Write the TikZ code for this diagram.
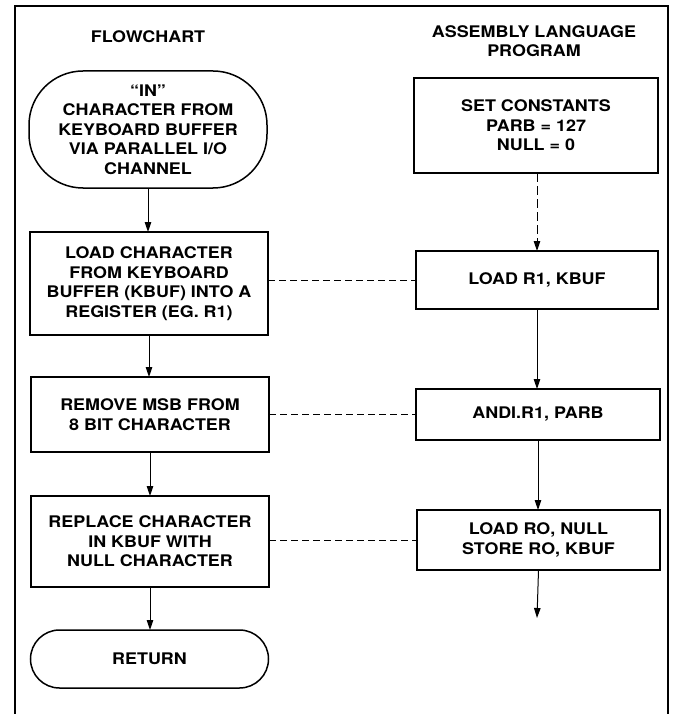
\documentclass[tikz,border=0pt]{standalone}
\usepackage{fontspec}
\setmainfont{TeX Gyre Heros}[FakeStretch=1.12]
\usetikzlibrary{arrows.meta}
\begin{document}
\begin{tikzpicture}[x=1pt,y=-1pt,
  txt/.style={font=\bfseries\fontsize{16}{19.5}\selectfont, align=center, inner sep=0pt},
  box/.style={txt, draw, line width=1.5pt, minimum width=#1, outer sep=0pt},
  box/.default=238pt,
  term/.style={box, rounded corners=#1},
  arr/.style={line width=1pt, -{Triangle[length=10pt,width=6.5pt]}},
  link/.style={line width=1pt, dash pattern=on 7pt off 4pt}]
  \useasboundingbox (0,0) rectangle (675,714);
  % outer frame, open at the foot
  \draw[line width=2pt] (15,714) -- (15,6) -- (668,6) -- (668,714);

  % column headings
  \node[txt] (h1) at (148,37) {FLOWCHART};
  \node[txt] (h2) at (534,41) {ASSEMBLY LANGUAGE\\PROGRAM};

  % flowchart column
  \node[term=54pt, minimum height=117pt] (in) at (148,129.5)
    {``IN''\\CHARACTER FROM\\KEYBOARD BUFFER\\VIA PARALLEL I/O\\CHANNEL};
  \node[box, minimum height=103pt] (load) at (149,283.5)
    {LOAD CHARACTER\\FROM KEYBOARD\\BUFFER (KBUF) INTO A\\REGISTER (EG. R1)};
  \node[box, minimum height=75pt] (remove) at (150,414.5)
    {REMOVE MSB FROM\\8 BIT CHARACTER};
  \node[box, minimum height=91pt] (replace) at (150,541.5)
    {REPLACE CHARACTER\\IN KBUF WITH\\NULL CHARACTER};
  \node[term=29pt, minimum height=58pt] (ret) at (149.5,659) {RETURN};

  % program column
  \node[box=244pt, minimum height=95pt] (setc) at (536,125.5)
    {SET CONSTANTS\\PARB = 127\\NULL = 0};
  \node[box=242pt, minimum height=58pt] (ld1) at (537,280) {LOAD R1, KBUF};
  \node[box=244pt, minimum height=51pt] (andi) at (538,414.5) {ANDI.R1, PARB};
  \node[box=243pt, minimum height=60pt] (ldro) at (538.5,540)
    {LOAD RO, NULL\\STORE RO, KBUF};
  \coordinate (tail) at (537,618);

  % flow arrows
  \draw[arr] (in.south) -- (in.south |- load.north);
  \draw[arr] (load.south) -- (load.south |- remove.north);
  \draw[arr] (remove.south) -- (remove.south |- replace.north);
  \draw[arr] (replace.south) -- (replace.south |- ret.north);

  \draw[arr, dash pattern=on 9pt off 4pt] (setc.south -| ld1.north) -- (ld1.north);
  \draw[arr] (ld1.south) -- (ld1.south |- andi.north);
  \draw[arr] (andi.south) -- (andi.south |- ldro.north);
  \draw[arr] (ldro.south) -- (tail);

  % correspondences between steps and instructions
  \draw[link] (ld1.west -| load.east) -- (ld1.west);
  \draw[link] (andi.west -| remove.east) -- (andi.west);
  \draw[link] (ldro.west -| replace.east) -- (ldro.west);
\end{tikzpicture}
\end{document}
